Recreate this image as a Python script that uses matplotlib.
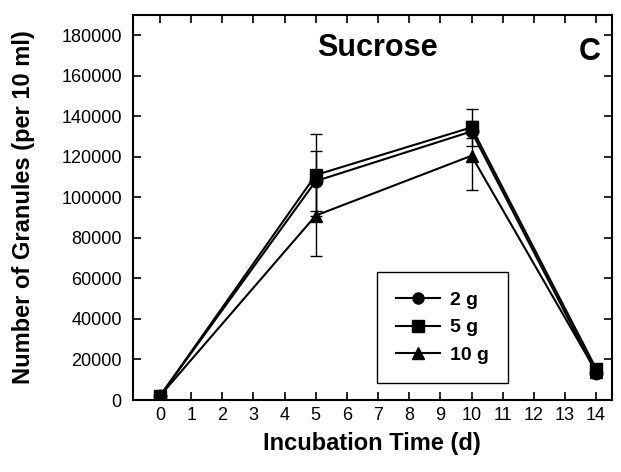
import matplotlib
matplotlib.use("Agg")
import matplotlib.pyplot as plt
from matplotlib.lines import Line2D
from matplotlib.patches import Rectangle

plt.rcParams['font.family'] = ['Liberation Sans', 'DejaVu Sans']

days = [0, 5, 10, 14]
g2 = [2000, 108000, 132500, 13500]
g2_err = [500, 15000, 3000, 2000]
g5 = [2000, 111000, 134500, 15500]
g5_err = [500, 20000, 9000, 1500]
g10 = [2000, 91000, 120500, 14000]
g10_err = [500, 20000, 17000, 2000]
labels = ['2 g', '5 g', '10 g']
markers = ['o', 's', '^']

fig = plt.figure(figsize=(6.21, 4.72), dpi=100)
ax = fig.add_axes([0.214, 0.1525, 0.771, 0.816])

for y, e, m in zip([g2, g5, g10], [g2_err, g5_err, g10_err], markers):
    ax.errorbar(days, y, yerr=e, color='black', marker=m, markersize=9,
                linewidth=1.5, elinewidth=1, capsize=4.5, capthick=1)

ax.set_xlim(-0.87, 14.5)
ax.set_ylim(0, 190000)
ax.set_xticks(range(0, 15))
ax.set_yticks(range(0, 180001, 20000))
ax.tick_params(direction='in', top=True, right=True, labelsize=13, length=6, width=1.2)
ax.tick_params(axis='y', pad=8)
ax.tick_params(axis='x', pad=5)
for s in ax.spines.values():
    s.set_linewidth(1.5)

ax.set_xlabel('Incubation Time (d)', fontsize=17, fontweight='bold', labelpad=6)
ax.set_ylabel('Number of Granules (per 10 ml)', fontsize=17, fontweight='bold', labelpad=19)
ax.text(0.384, 0.914, 'Sucrose', transform=ax.transAxes, fontsize=22,
        fontweight='bold', va='center', ha='left')
ax.text(0.931, 0.904, 'C', transform=ax.transAxes, fontsize=22,
        fontweight='bold', va='center', ha='left')

# legend box drawn separately so its padding can match the original
ax.add_patch(Rectangle((0.509, 0.044), 0.274, 0.288, transform=ax.transAxes,
                       facecolor='white', edgecolor='black', linewidth=1, zorder=4))
handles = [Line2D([], [], color='black', marker=m, markersize=8, linewidth=1.5)
           for m in markers]
leg = ax.legend(handles, labels, loc='center', bbox_to_anchor=(0.509, 0.05, 0.274, 0.276),
                frameon=False, fontsize=14, handlelength=2.3, labelspacing=0.5,
                handletextpad=0.5)
leg.set_zorder(5)
for t in leg.get_texts():
    t.set_fontweight('bold')

fig.savefig('out.png', dpi=100)
